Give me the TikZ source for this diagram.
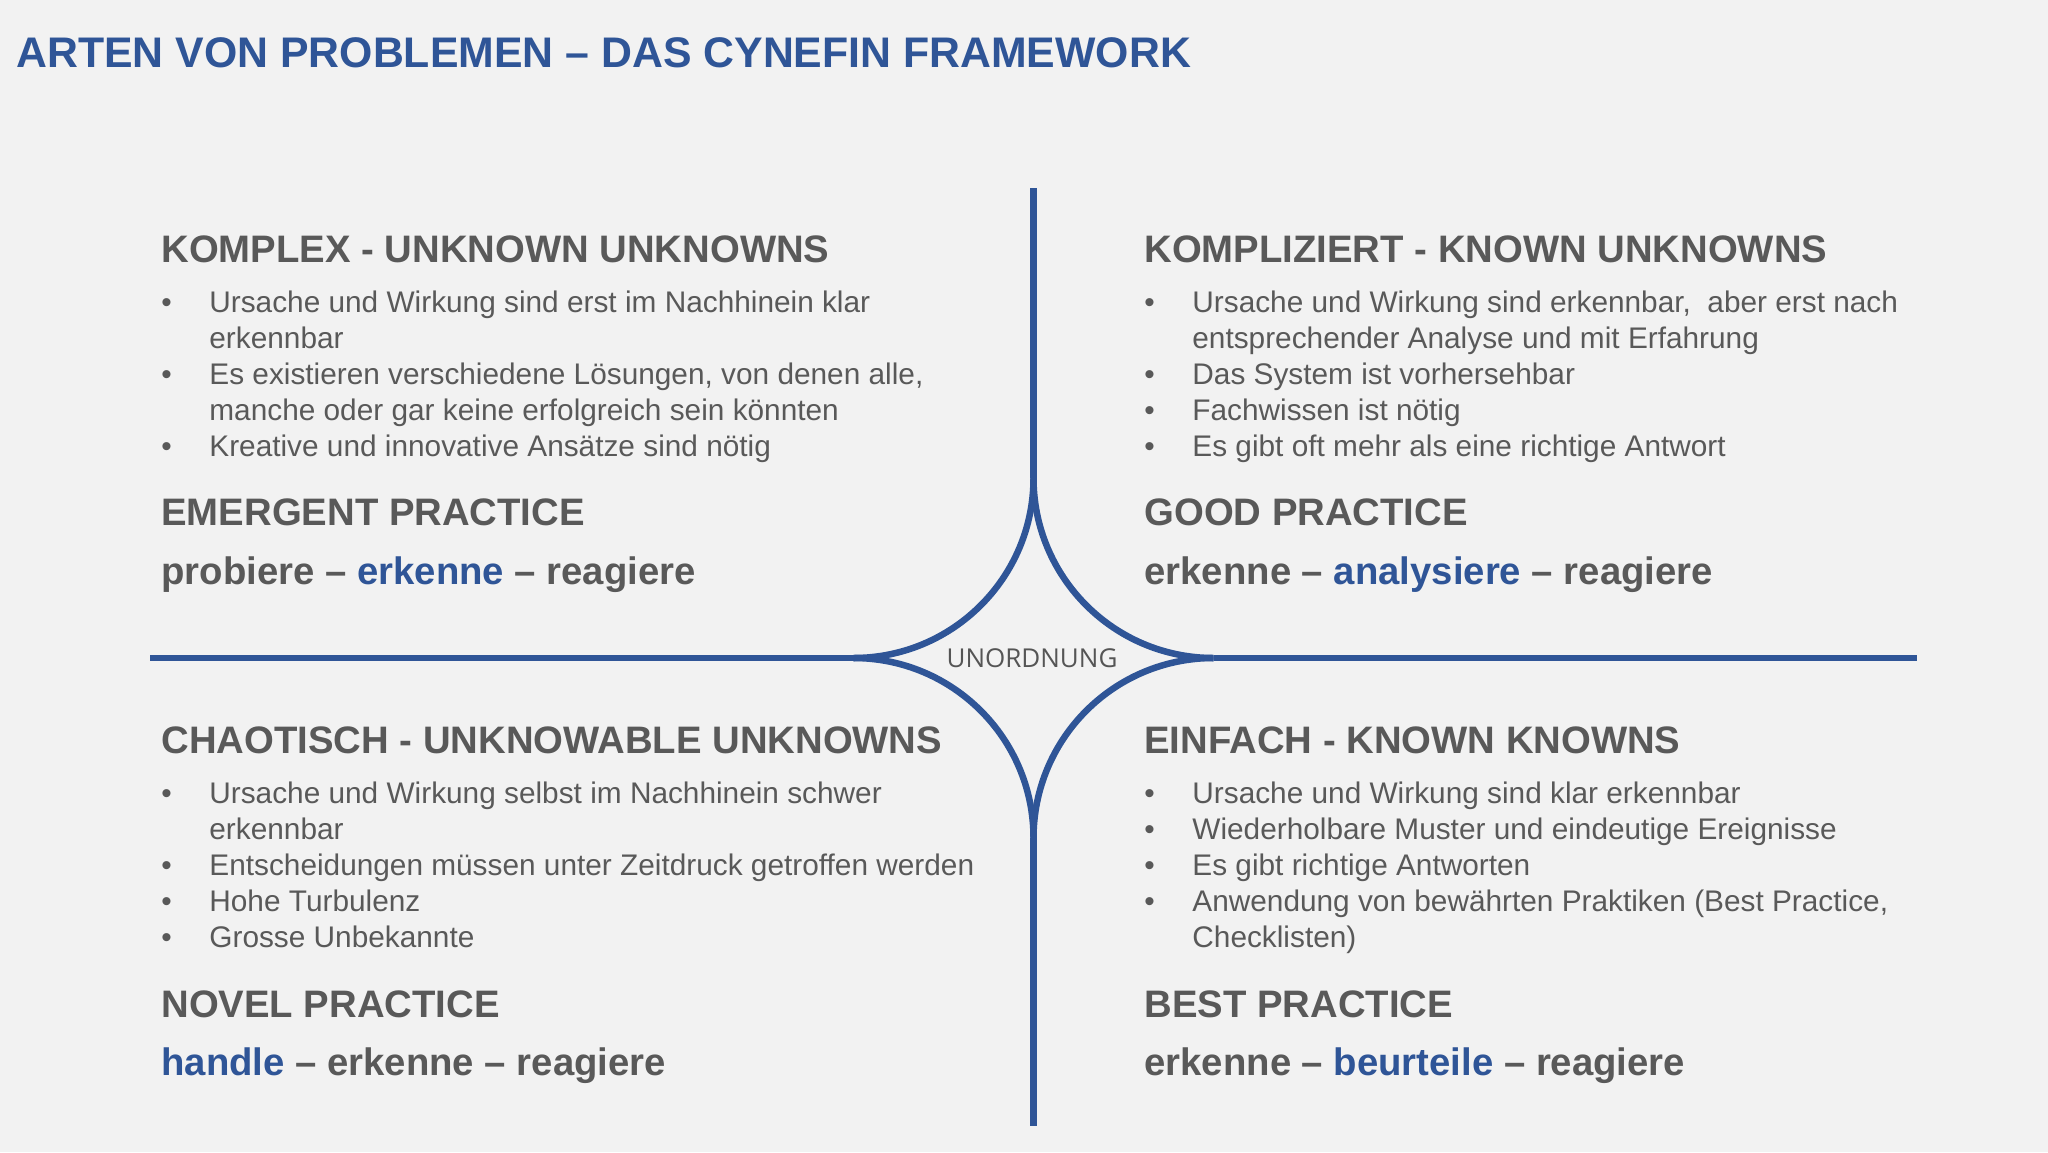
\documentclass[tikz,border=0pt]{standalone}
\usepackage{fontspec}
\setmainfont{Liberation Sans}
\newfontfamily\cyMidFamily{Open Sans}
\definecolor{cyblue}{HTML}{2F5597}
\definecolor{cygray}{HTML}{595959}
\definecolor{cybg}{HTML}{F2F2F2}
\definecolor{cymid}{HTML}{555555}
\begin{document}
\begin{tikzpicture}[x=0.5pt,y=-0.5pt,
  ttl/.style={anchor=base west, inner sep=0, text=cyblue, font=\fontsize{21.4}{26}\selectfont\bfseries},
  hd/.style={anchor=base west, inner sep=0, text=cygray, font=\fontsize{19.15}{23}\selectfont\bfseries},
  bd/.style={anchor=base west, inner sep=0, text=cygray, font=\fontsize{14.9}{18}\selectfont},
  mid/.style={anchor=center, inner sep=0, text=cymid, font=\cyMidFamily\fontsize{13}{15}\selectfont},
  ax/.style={line width=3.25pt, draw=cyblue},
  star/.style={line width=3.25pt, draw=cyblue}
]
\fill[cybg] (0,0) rectangle (2048,1152);
\useasboundingbox (0,0) rectangle (2048,1152);

% title
\node[ttl] (title) at (16,67) {ARTEN VON PROBLEMEN – DAS CYNEFIN FRAMEWORK};

% axes end points and star tips (r = 180 around centre (1033.5,658))
\coordinate (vtop) at (1033.5,188);
\coordinate (vbot) at (1033.5,1126);
\coordinate (hleft) at (150,658);
\coordinate (hright) at (1917,658);
\coordinate (sT) at (1033.5,478);
\coordinate (sB) at (1033.5,838);
\coordinate (sL) at (853.5,658);
\coordinate (sR) at (1213.5,658);

% axes (stop at the star)
\draw[ax] (vtop) -- (sT);
\draw[ax] (sB) -- (vbot);
\draw[ax] (hleft) -- (sL);
\draw[ax] (sR) -- (hright);

% star (Unordnung)
\draw[star] (sT) .. controls +(0,99.4) and +(99.4,0) .. (sL);
\draw[star] (sT) .. controls +(0,99.4) and +(-99.4,0) .. (sR);
\draw[star] (sB) .. controls +(0,-99.4) and +(99.4,0) .. (sL);
\draw[star] (sB) .. controls +(0,-99.4) and +(-99.4,0) .. (sR);
\node[mid] (unord) at (1032,658) {UNORDNUNG};

% top-left: KOMPLEX
\node[hd] (tlh) at (161,262) {KOMPLEX - UNKNOWN UNKNOWNS};
\node[bd] (tlb1) at (161,312) {•};
\node[bd] (tlt1) at (209,312) {Ursache und Wirkung sind erst im Nachhinein klar};
\node[bd] (tlt1b) at (209,348) {erkennbar};
\node[bd] (tlb2) at (161,384) {•};
\node[bd] (tlt2) at (209,384) {Es existieren verschiedene Lösungen, von denen alle,};
\node[bd] (tlt2b) at (209,420) {manche oder gar keine erfolgreich sein könnten};
\node[bd] (tlb3) at (161,456) {•};
\node[bd] (tlt3) at (209,456) {Kreative und innovative Ansätze sind nötig};
\node[hd] (tlp) at (161,525) {EMERGENT PRACTICE};
\node[hd] (tla) at (161,584) {probiere – \textcolor{cyblue}{erkenne} – reagiere};

% top-right: KOMPLIZIERT
\node[hd] (trh) at (1144,262) {KOMPLIZIERT - KNOWN UNKNOWNS};
\node[bd] (trb1) at (1144,312) {•};
\node[bd] (trt1) at (1192,312) {Ursache und Wirkung sind erkennbar,\ \ aber erst nach};
\node[bd] (trt1b) at (1192,348) {entsprechender Analyse und mit Erfahrung};
\node[bd] (trb2) at (1144,384) {•};
\node[bd] (trt2) at (1192,384) {Das System ist vorhersehbar};
\node[bd] (trb3) at (1144,420) {•};
\node[bd] (trt3) at (1192,420) {Fachwissen ist nötig};
\node[bd] (trb4) at (1144,456) {•};
\node[bd] (trt4) at (1192,456) {Es gibt oft mehr als eine richtige Antwort};
\node[hd] (trp) at (1144,525) {GOOD PRACTICE};
\node[hd] (tra) at (1144,584) {erkenne – \textcolor{cyblue}{analysiere} – reagiere};

% bottom-left: CHAOTISCH
\node[hd] (blh) at (161,753) {CHAOTISCH - UNKNOWABLE UNKNOWNS};
\node[bd] (blb1) at (161,803) {•};
\node[bd] (blt1) at (209,803) {Ursache und Wirkung selbst im Nachhinein schwer};
\node[bd] (blt1b) at (209,839) {erkennbar};
\node[bd] (blb2) at (161,875) {•};
\node[bd] (blt2) at (209,875) {Entscheidungen müssen unter Zeitdruck getroffen werden};
\node[bd] (blb3) at (161,911) {•};
\node[bd] (blt3) at (209,911) {Hohe Turbulenz};
\node[bd] (blb4) at (161,947) {•};
\node[bd] (blt4) at (209,947) {Grosse Unbekannte};
\node[hd] (blp) at (161,1017) {NOVEL PRACTICE};
\node[hd] (bla) at (161,1075) {\textcolor{cyblue}{handle} – erkenne – reagiere};

% bottom-right: EINFACH
\node[hd] (brh) at (1144,753) {EINFACH - KNOWN KNOWNS};
\node[bd] (brb1) at (1144,803) {•};
\node[bd] (brt1) at (1192,803) {Ursache und Wirkung sind klar erkennbar};
\node[bd] (brb2) at (1144,839) {•};
\node[bd] (brt2) at (1192,839) {Wiederholbare Muster und eindeutige Ereignisse};
\node[bd] (brb3) at (1144,875) {•};
\node[bd] (brt3) at (1192,875) {Es gibt richtige Antworten};
\node[bd] (brb4) at (1144,911) {•};
\node[bd] (brt4) at (1192,911) {Anwendung von bewährten Praktiken (Best Practice,};
\node[bd] (brt4b) at (1192,947) {Checklisten)};
\node[hd] (brp) at (1144,1017) {BEST PRACTICE};
\node[hd] (bra) at (1144,1075) {erkenne – \textcolor{cyblue}{beurteile} – reagiere};
\end{tikzpicture}
\end{document}
